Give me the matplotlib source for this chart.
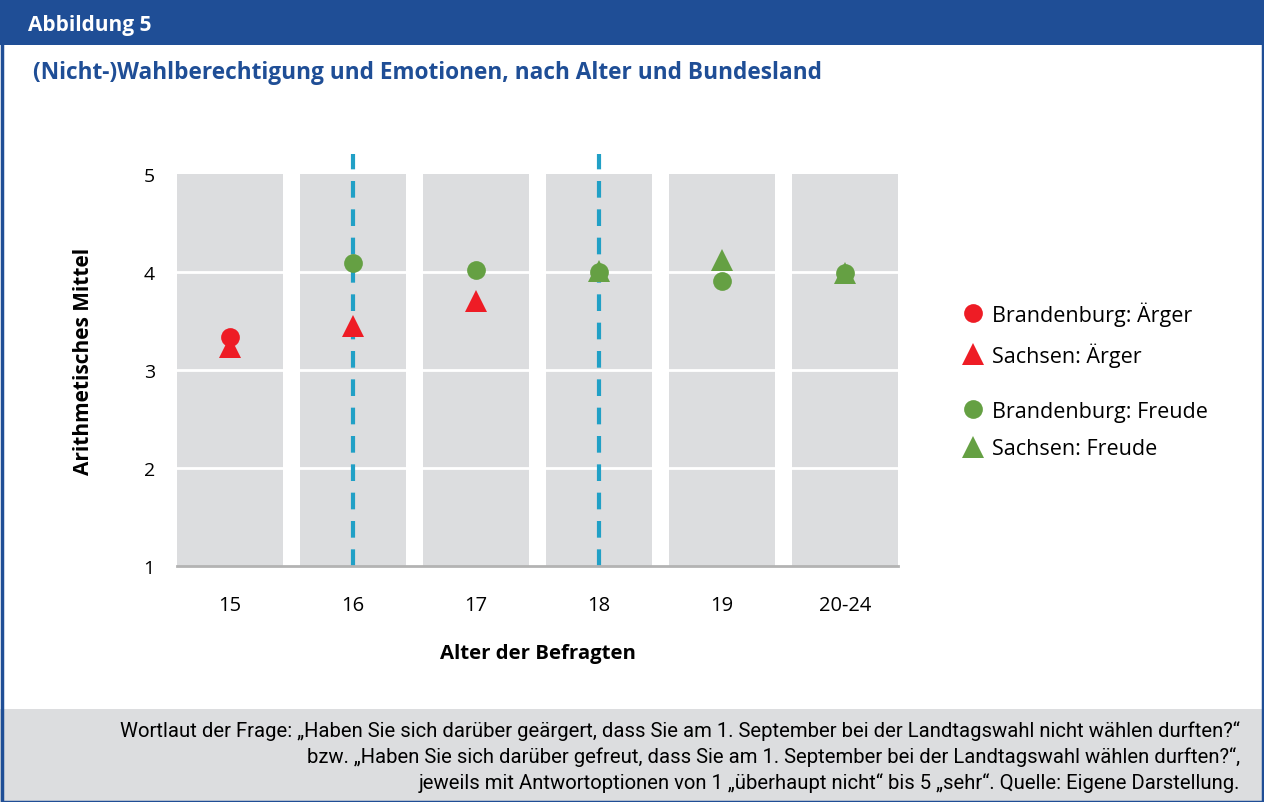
import matplotlib
matplotlib.use("Agg")
import matplotlib.pyplot as plt
from matplotlib.patches import Rectangle
from matplotlib.lines import Line2D

plt.rcParams['font.family'] = ['Open Sans', 'DejaVu Sans']

categories = ["15", "16", "17", "18", "19", "20-24"]
brandenburg_aerger = [3.33, None, None, None, None, None]
sachsen_aerger = [3.23, 3.45, 3.70, None, None, None]
brandenburg_freude = [None, 4.09, 4.02, 4.00, 3.91, 3.99]
sachsen_freude = [None, None, None, 4.01, 4.12, 3.99]
y_ticks = [1, 2, 3, 4, 5]
dashed_at = ["16", "18"]

RED = "#ee1c25"
GREEN = "#65a043"
BLUE = "#1f4e96"
GRAY = "#dcdddf"
DASH = "#21a0c6"

fig = plt.figure(figsize=(12.64, 8.03), dpi=100)
fig.patch.set_facecolor("white")

# header and footer
fig.patches.append(Rectangle((0, 1 - 46/803), 1, 46/803, transform=fig.transFigure,
                             facecolor=BLUE, edgecolor="none", zorder=0))
fig.patches.append(Rectangle((0, 0), 1, 93/803, transform=fig.transFigure,
                             facecolor=GRAY, edgecolor="none", zorder=0))
fig.patches.append(Rectangle((1.5/1264, 0), 1 - 3/1264, 1, transform=fig.transFigure,
                             facecolor="none", edgecolor=BLUE, lw=2.5, zorder=1))

fig.text(28/1264, 1 - 25/803, "Abbildung 5", color="white", fontsize=15,
         fontweight="bold", va="center", ha="left")
fig.text(33/1264, 1 - 73/803, "(Nicht-)Wahlberechtigung und Emotionen, nach Alter und Bundesland",
         color=BLUE, fontsize=16.3, fontweight="bold", va="center", ha="left")

footer = ["Wortlaut der Frage: „Haben Sie sich darüber geärgert, dass Sie am 1. September bei der Landtagswahl nicht wählen durften?“",
          "bzw. „Haben Sie sich darüber gefreut, dass Sie am 1. September bei der Landtagswahl wählen durften?“,",
          "jeweils mit Antwortoptionen von 1 „überhaupt nicht“ bis 5 „sehr“. Quelle: Eigene Darstellung."]
for i, line in enumerate(footer):
    fig.text(1240/1264, 1 - (731 + 26*i)/803, line, fontsize=14.6, ha="right", va="center",
             family=['Roboto', 'DejaVu Sans'])

ax = fig.add_axes([177/1264, 1 - 567/803, (898-177)/1264, (567-155)/803])
ax.set_facecolor("white")
x = list(range(len(categories)))
ax.bar(x, [y_ticks[-1] - y_ticks[0]] * len(x), bottom=y_ticks[0], width=0.865,
       color=GRAY, zorder=1)
for yv in y_ticks[1:-1]:
    ax.axhline(yv, color="white", lw=2, zorder=2)
for c in dashed_at:
    ax.axvline(categories.index(c), color=DASH, lw=3, linestyle=(0, (4, 2.8)), zorder=3)

def plot_series(vals, marker, color, ms, z):
    xs = [i for i, v in enumerate(vals) if v is not None]
    ys = [v for v in vals if v is not None]
    ax.plot(xs, ys, linestyle="none", marker=marker, color=color, markersize=ms,
            markeredgewidth=0, zorder=z)

plot_series(sachsen_aerger, "^", RED, 16, 4)
plot_series(brandenburg_aerger, "o", RED, 13.5, 5)
plot_series(sachsen_freude, "^", GREEN, 16, 4)
plot_series(brandenburg_freude, "o", GREEN, 13.5, 5)

ax.set_xlim(-0.43, 5.43)
ax.set_ylim(1, 5.2)
ax.set_xticks(x)
ax.set_xticklabels(categories, fontsize=14.5)
ax.set_yticks(y_ticks)
ax.set_yticklabels([str(t) for t in y_ticks], fontsize=14)
ax.tick_params(axis="both", length=0)
ax.tick_params(axis="x", pad=21)
ax.tick_params(axis="y", pad=16)
for s in ["top", "right", "left"]:
    ax.spines[s].set_visible(False)
ax.spines["bottom"].set_color("#b3b3b3")
ax.spines["bottom"].set_linewidth(2)
ax.spines["bottom"].set_zorder(6)
ax.set_xlabel("Alter der Befragten", fontsize=14.7, fontweight="bold", labelpad=20)
ax.set_ylabel("Arithmetisches Mittel", fontsize=15, fontweight="bold", labelpad=36)

h1 = [Line2D([], [], linestyle="none", marker="o", color=RED, markersize=13.5, markeredgewidth=0),
      Line2D([], [], linestyle="none", marker="^", color=RED, markersize=16, markeredgewidth=0)]
h2 = [Line2D([], [], linestyle="none", marker="o", color=GREEN, markersize=13.5, markeredgewidth=0),
      Line2D([], [], linestyle="none", marker="^", color=GREEN, markersize=16, markeredgewidth=0)]
leg1 = fig.legend(h1, ["Brandenburg: Ärger", "Sachsen: Ärger"], loc="center left",
                  bbox_to_anchor=(940/1264, 1 - 335/803), frameon=False, fontsize=15.5,
                  handletextpad=0.2, labelspacing=0.75, handlelength=1.3)
leg2 = fig.legend(h2, ["Brandenburg: Freude", "Sachsen: Freude"], loc="center left",
                  bbox_to_anchor=(940/1264, 1 - 431/803), frameon=False, fontsize=15.5,
                  handletextpad=0.2, labelspacing=0.75, handlelength=1.3)

fig.savefig("out.png", dpi=100)
